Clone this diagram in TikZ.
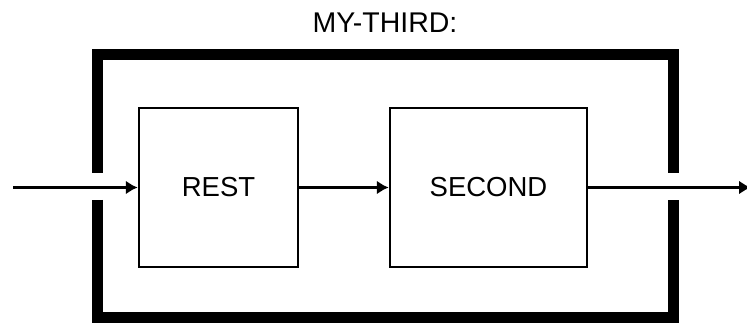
\documentclass[tikz,border=0pt]{standalone}
\usepackage{fontspec}
\setmainfont{Liberation Sans}
\usetikzlibrary{arrows.meta}
\begin{document}
\begin{tikzpicture}[x=1pt,y=-1pt,
  blockbox/.style={draw=black,line width=2.5pt,minimum height=159pt,inner sep=0pt,font=\fontsize{27.5}{30}\selectfont},
  frameline/.style={line width=11pt,line cap=butt,line join=miter},
  flow/.style={line width=2.5pt,-{Latex[length=12pt,width=14pt]}}]
\useasboundingbox (0,0) rectangle (747,323);
\node (title) at (385,23) {\fontsize{28.5}{30}\selectfont MY-THIRD:};
\draw[frameline] (97,173) -- (97,55) -- (673,55) -- (673,173);
\draw[frameline] (97,200) -- (97,317) -- (673,317) -- (673,200);
\node[blockbox,minimum width=159pt] (rest) at (218.5,187.5) {REST};
\node[blockbox,minimum width=197pt] (second) at (488.5,187.5) {SECOND};
\coordinate (in) at (13,187.5);
\coordinate (out) at (751,187.5);
\draw[flow] (in) -- (rest.west);
\draw[flow] (rest.east) -- (second.west);
\draw[flow] (second.east) -- (out);
\end{tikzpicture}
\end{document}
